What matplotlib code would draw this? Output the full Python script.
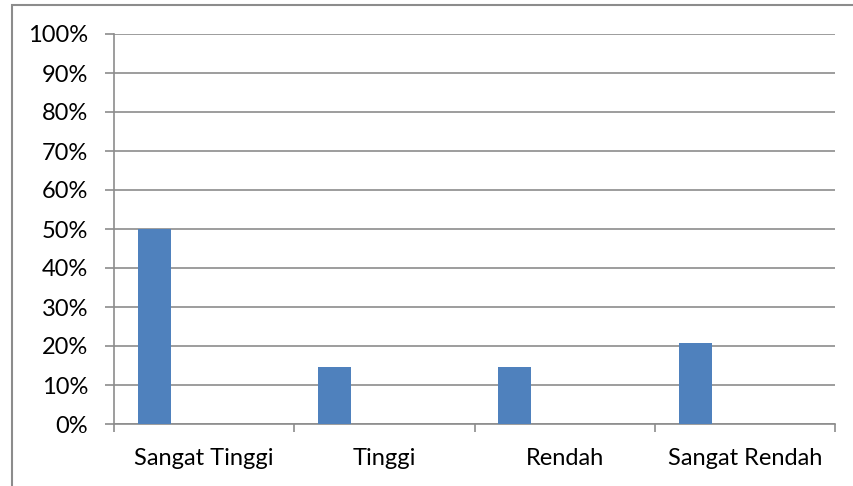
import numpy as np
import matplotlib.pyplot as plt
from matplotlib.patches import Rectangle

# data
categories = ['Sangat Tinggi', 'Tinggi', 'Rendah', 'Sangat Rendah']
persen = [50.0, 14.6, 14.6, 20.8]
yticks = [0, 10, 20, 30, 40, 50, 60, 70, 80, 90, 100]

plt.rcParams['font.family'] = ['Lato', 'DejaVu Sans']

fig = plt.figure(figsize=(8.54, 4.86), dpi=100)
ax = fig.add_axes([114/854, 62/486, 721/854, 390/486])

# Excel style: bar sits in the left part of each category slot
x = np.arange(len(categories))
bar_w = 0.183
ax.bar(x - 0.5 + 0.133 + bar_w/2, persen, width=bar_w, color='#4F81BD', zorder=3)

ax.set_xlim(-0.5, len(categories) - 0.5)
ax.set_ylim(0, 100)
ax.set_yticks(yticks)
ax.set_yticklabels([f'{v}%' for v in yticks], fontsize=17)
ax.set_xticks(x)
ax.set_xticklabels(categories, fontsize=17)
ax.set_xticks(np.arange(len(categories) + 1) - 0.5, minor=True)

ax.grid(axis='y', color='#8c8c8c', linewidth=1.2, zorder=0)
for s in ['top', 'right']:
    ax.spines[s].set_visible(False)
for s in ['left', 'bottom']:
    ax.spines[s].set_color('#8c8c8c')
    ax.spines[s].set_linewidth(1.2)

ax.tick_params(axis='y', direction='out', length=6.5, width=1.2, color='#8c8c8c', pad=12)
ax.tick_params(axis='x', which='major', length=0, pad=17)
ax.tick_params(axis='x', which='minor', direction='out', length=6, width=1.2, color='#8c8c8c')

# chart frame
fig.patches.append(Rectangle((12/854, -0.05), 1.0, 1 - 5/486 + 0.05, transform=fig.transFigure,
                             fill=False, edgecolor='#8c8c8c', linewidth=1.5))

fig.savefig('out.png', dpi=100)
